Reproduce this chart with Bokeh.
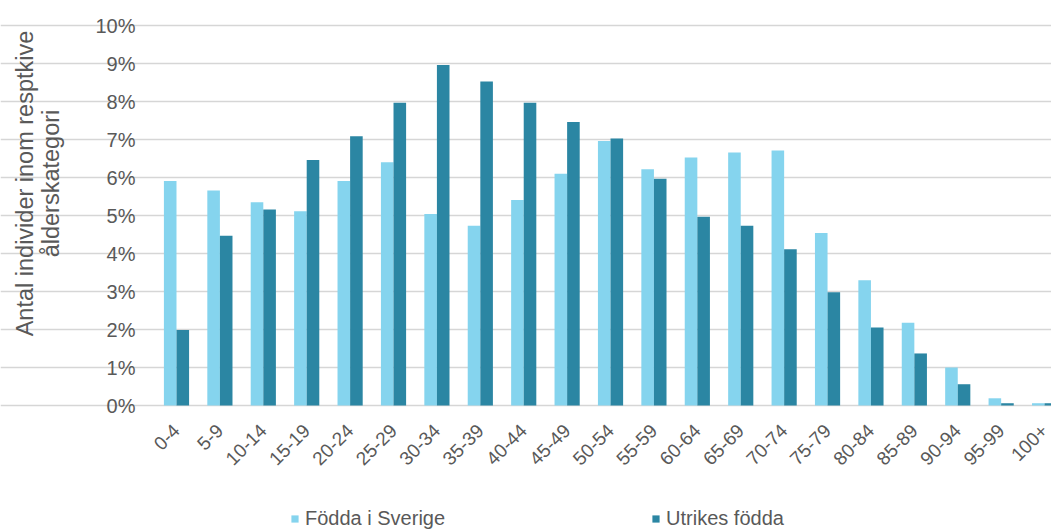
import math
from bokeh.plotting import figure
from bokeh.models import (ColumnDataSource, Range1d, FixedTicker, NumeralTickFormatter,
                          Legend, LegendItem, Label, LinearAxis, Grid)
from bokeh.transform import dodge
from bokeh.embed import file_html
from bokeh.resources import INLINE

categories = ["0-4", "5-9", "10-14", "15-19", "20-24", "25-29", "30-34", "35-39",
              "40-44", "45-49", "50-54", "55-59", "60-64", "65-69", "70-74", "75-79",
              "80-84", "85-89", "90-94", "95-99", "100+"]
fodda_i_sverige = [0.0591, 0.0566, 0.0535, 0.0511, 0.0591, 0.0640, 0.0504, 0.0473,
                   0.0541, 0.0610, 0.0696, 0.0622, 0.0653, 0.0666, 0.0671, 0.0454,
                   0.0330, 0.0218, 0.0100, 0.0019, 0.0006]
utrikes_fodda = [0.0199, 0.0447, 0.0516, 0.0646, 0.0709, 0.0797, 0.0896, 0.0853,
                 0.0797, 0.0746, 0.0703, 0.0597, 0.0497, 0.0473, 0.0411, 0.0298,
                 0.0205, 0.0137, 0.0056, 0.0006, 0.0006]
y_ticks = [0.0, 0.01, 0.02, 0.03, 0.04, 0.05, 0.06, 0.07, 0.08, 0.09, 0.10]
y_title_lines = ["Antal individer inom resptkive", "ålderskategori"]

LIGHT = "#85D4EE"
DARK = "#2B86A3"
TXT = "#595959"
FONT = "Liberation Sans"

# plotting area starts at category -0.484 (left edge of the gridlines)
X_LEFT = -0.484

src = ColumnDataSource(dict(x=list(range(len(categories))),
                            sv=fodda_i_sverige, ut=utrikes_fodda))

p = figure(width=1051, height=530, output_backend="svg", toolbar_location=None,
           x_range=Range1d(-4.055, 20.16), y_range=Range1d(-0.0329, 0.1066),
           min_border=0, x_axis_location=None, y_axis_location=None)
p.outline_line_color = None
for g in p.grid:
    g.visible = False

r1 = p.vbar(x=dodge("x", -0.145, range=p.x_range), top="sv", width=0.29, source=src,
            fill_color=LIGHT, line_color=None)
r2 = p.vbar(x=dodge("x", 0.145, range=p.x_range), top="ut", width=0.29, source=src,
            fill_color=DARK, line_color=None)

yaxis = LinearAxis(fixed_location=X_LEFT, ticker=FixedTicker(ticks=y_ticks),
                   formatter=NumeralTickFormatter(format="0%"),
                   axis_line_color=None, major_tick_line_color=None,
                   minor_tick_line_color=None, major_tick_out=0,
                   major_label_standoff=20, major_label_text_font=FONT,
                   major_label_text_font_size="20px", major_label_text_color=TXT)
p.add_layout(yaxis, "left")

xaxis = LinearAxis(fixed_location=0, ticker=FixedTicker(ticks=list(range(len(categories)))),
                   major_label_overrides={i: c for i, c in enumerate(categories)},
                   major_label_orientation=math.pi / 4,
                   axis_line_color=None, major_tick_line_color=None,
                   minor_tick_line_color=None, major_tick_out=0,
                   major_label_standoff=22, major_label_text_font=FONT,
                   major_label_text_font_size="19px", major_label_text_color=TXT)
p.add_layout(xaxis, "below")

p.add_layout(Grid(dimension=1, ticker=yaxis.ticker, bounds=(X_LEFT, 20.16),
                  grid_line_color="#D6D6D6", grid_line_width=1.6, level="underlay"))

# two-line y-axis title
for txt, xs in ((y_title_lines[0], 24), (y_title_lines[1], 50)):
    p.add_layout(Label(x=xs, y=347, x_units="screen", y_units="screen", text=txt,
                       angle=math.pi / 2, text_align="center", text_baseline="middle",
                       text_font=FONT, text_font_size="23.5px", text_color=TXT))

legend = Legend(items=[LegendItem(label="Födda i Sverige", renderers=[r1]),
                       LegendItem(label="Utrikes födda", renderers=[r2])],
                location=(290, 0), orientation="horizontal",
                padding=0, margin=0, spacing=206, glyph_width=9, glyph_height=9,
                label_standoff=6, border_line_color=None, background_fill_alpha=0,
                label_text_font=FONT, label_text_font_size="20px",
                label_text_color=TXT)
p.add_layout(legend, "center")

open("out.html", "w").write(file_html(p, INLINE))
